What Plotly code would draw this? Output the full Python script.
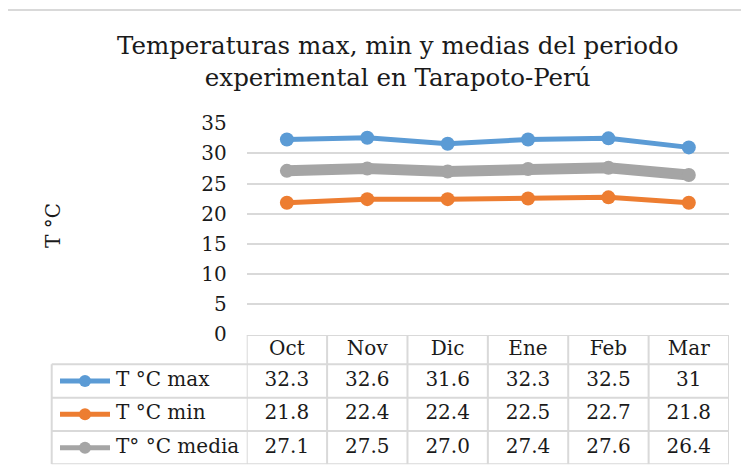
import plotly.graph_objects as go

# ---------------- data ----------------
months = ["Oct", "Nov", "Dic", "Ene", "Feb", "Mar"]
t_max = [32.3, 32.6, 31.6, 32.3, 32.5, 31]
t_min = [21.8, 22.4, 22.4, 22.5, 22.7, 21.8]
t_media = [27.1, 27.5, 27.0, 27.4, 27.6, 26.4]
series_names = ["T °C max", "T °C min", "T° °C media"]
title_text = "Temperaturas max, min y medias del periodo<br>experimental en Tarapoto-Perú"
y_title = "T °C"
y_ticks = [0, 5, 10, 15, 20, 25, 30, 35]

# ---------------- style ----------------
W, H = 749, 470
OFF = 8  # page body margin: the figure starts 8px in from the window edge
FONT = "DejaVu Serif"
TXT = "#1a1a1a"
GRID = "#d9d9d9"
colors = ["#5b9bd5", "#ed7d31", "#a5a5a5"]
line_widths = [5, 5, 11]

def px(x):
    return (x - OFF) / W

def py(y):
    return 1 - (y - OFF) / H

# plot area (window pixels)
PL, PR, PT, PB = 246.7, 729.0, 123.3, 334.0
# table rows (window pixel y boundaries)
row_edges = [335.0, 364.3, 397.7, 431.0, 464.3]
row_centers = [(row_edges[i] + row_edges[i + 1]) / 2 for i in range(4)]
TABLE_LEFT = 51.7

fig = go.Figure()

series = [t_max, t_min, t_media]
for name, vals, c, lw in zip(series_names, series, colors, line_widths):
    fig.add_trace(go.Scatter(
        x=months, y=vals, mode="lines+markers", name=name,
        line=dict(color=c, width=lw),
        marker=dict(color=c, size=14),
        xaxis="x", yaxis="y", showlegend=False, hoverinfo="skip"))

# header row (month names)
fig.add_trace(go.Scatter(
    x=months, y=[row_centers[0]] * len(months), mode="text", text=months,
    textposition="middle center", textfont=dict(family=FONT, size=20, color=TXT),
    xaxis="x", yaxis="y2", showlegend=False, hoverinfo="skip", cliponaxis=False))

# value rows
fmt = [lambda v: f"{v:g}", lambda v: f"{v:g}", lambda v: f"{v:.1f}"]
for i, vals in enumerate(series):
    fig.add_trace(go.Scatter(
        x=months, y=[row_centers[i + 1]] * len(months), mode="text",
        text=[fmt[i](v) for v in vals],
        textposition="middle center", textfont=dict(family=FONT, size=20, color=TXT),
        xaxis="x", yaxis="y2", showlegend=False, hoverinfo="skip", cliponaxis=False))

# legend keys in the table's first column (x2 axis is in window pixels)
for i, (name, c) in enumerate(zip(series_names, colors)):
    yc = row_centers[i + 1]
    fig.add_trace(go.Scatter(
        x=[60, 110], y=[yc, yc], mode="lines", line=dict(color=c, width=5),
        xaxis="x2", yaxis="y2", showlegend=False, hoverinfo="skip"))
    fig.add_trace(go.Scatter(
        x=[85], y=[yc], mode="markers", marker=dict(color=c, size=12),
        xaxis="x2", yaxis="y2", showlegend=False, hoverinfo="skip"))
    fig.add_trace(go.Scatter(
        x=[116], y=[yc], mode="text", text=[name], textposition="middle right",
        textfont=dict(family=FONT, size=20, color=TXT),
        xaxis="x2", yaxis="y2", showlegend=False, hoverinfo="skip", cliponaxis=False))

shapes = []
# outer chart border (left and top visible)
shapes.append(dict(type="rect", xref="paper", yref="paper",
                   x0=px(5), x1=1.2, y0=-0.2, y1=py(10),
                   line=dict(color=GRID, width=2), layer="below"))
# table horizontal lines
shapes.append(dict(type="line", xref="x", yref="y2", x0=-0.5, x1=len(months) - 0.5,
                   y0=row_edges[0], y1=row_edges[0], line=dict(color=GRID, width=2)))
for ye in row_edges[1:]:
    shapes.append(dict(type="line", xref="x2", yref="y2", x0=TABLE_LEFT, x1=PR,
                       y0=ye, y1=ye, line=dict(color=GRID, width=2)))
# table vertical lines
for k in range(len(months) + 1):
    shapes.append(dict(type="line", xref="x", yref="y2", x0=k - 0.5, x1=k - 0.5,
                       y0=row_edges[0], y1=row_edges[-1], line=dict(color=GRID, width=2)))
shapes.append(dict(type="line", xref="x2", yref="y2", x0=TABLE_LEFT, x1=TABLE_LEFT,
                   y0=row_edges[1], y1=row_edges[-1], line=dict(color=GRID, width=2)))

annotations = [
    dict(text=title_text, xref="paper", yref="paper", x=px(397), y=py(61),
         xanchor="center", yanchor="middle", showarrow=False,
         font=dict(family=FONT, size=24.5, color=TXT)),
    dict(text=y_title, xref="paper", yref="paper", x=px(53), y=py(226),
         xanchor="center", yanchor="middle", showarrow=False, textangle=-90,
         font=dict(family=FONT, size=20, color=TXT)),
]

fig.update_layout(
    template="none",
    width=W, height=H, autosize=False,
    margin=dict(l=0, r=0, t=0, b=0, pad=0, autoexpand=False),
    paper_bgcolor="white", plot_bgcolor="rgba(0,0,0,0)",
    showlegend=False,
    xaxis=dict(type="category", domain=[px(PL), px(PR)], range=[-0.5, len(months) - 0.5],
               showticklabels=False, showgrid=False, zeroline=False, showline=False,
               ticks="", anchor="y", automargin=False),
    yaxis=dict(domain=[py(PB), py(PT)], range=[0, 35], tickvals=y_ticks,
               tickfont=dict(family=FONT, size=20, color=TXT),
               showgrid=True, gridcolor=GRID, gridwidth=2, zeroline=False, showline=False,
               ticks="", ticklabelstandoff=19, anchor="x", automargin=False),
    xaxis2=dict(domain=[0, 1], range=[OFF, W + OFF], visible=False, anchor="y2",
                automargin=False),
    yaxis2=dict(domain=[py(row_edges[-1]), py(row_edges[0])],
                range=[row_edges[-1], row_edges[0]], visible=False, anchor="x",
                automargin=False),
    shapes=shapes,
    annotations=annotations,
)

fig.write_html("out.html")
